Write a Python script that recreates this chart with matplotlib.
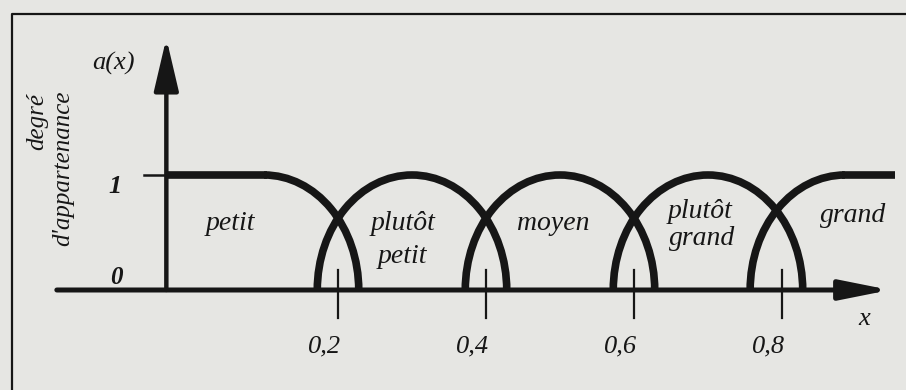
import matplotlib
matplotlib.use("Agg")
import matplotlib.pyplot as plt
from matplotlib.patches import Arc

# fuzzy sets: name, centre (peak), shape
set_names = ["petit", "plutôt petit", "moyen", "plutôt grand", "grand"]
set_centres = [0.1, 0.3, 0.5, 0.7, 0.885]
half_width = 0.128

tick_values = [0.2, 0.4, 0.6, 0.8]
tick_labels = ["0,2", "0,4", "0,6", "0,8"]

ink = "#161616"
paper = "#e6e6e3"

fig = plt.figure(figsize=(9.06, 3.90), dpi=100, facecolor=paper)
ax = fig.add_axes([0, 0, 1, 1])
ax.set_facecolor(paper)
ax.set_xlim(-0.2568, 0.9676)
ax.set_ylim(-0.8696, 2.5217)
ax.axis("off")

serif = dict(family="Liberation Serif", style="italic", color=ink)

# frame of the figure box
ax.plot([12 / 906, 12 / 906, 1], [0, 1 - 14 / 390, 1 - 14 / 390],
        transform=ax.transAxes, color=ink, lw=1.6, solid_capstyle="butt")

# axes with arrows
y_axis_x = -0.032
ax.annotate("", xy=(y_axis_x, 2.19), xytext=(y_axis_x, 0),
            arrowprops=dict(arrowstyle="-|>,head_length=3.2,head_width=0.75",
                            mutation_scale=10, lw=3.2, color=ink,
                            shrinkA=0, shrinkB=0))
ax.annotate("", xy=(0.946, 0), xytext=(-0.18, 0),
            arrowprops=dict(arrowstyle="-|>,head_length=3.0,head_width=0.6",
                            mutation_scale=10, lw=3.6, color=ink,
                            shrinkA=0, shrinkB=0))

# level 1 tick and x ticks
ax.plot([-0.0622, y_axis_x], [1, 1], color=ink, lw=1.8)
for t in tick_values:
    ax.plot([t, t], [0.174, -0.243], color=ink, lw=1.6)

# membership functions
curve = dict(color=ink, lw=5.5)
for i, c in enumerate(set_centres):
    if i == 0:
        ax.plot([y_axis_x, c + 0.004], [1, 1], solid_capstyle="butt", **curve)
        t1, t2 = 0, 90
    elif i == len(set_centres) - 1:
        ax.plot([c - 0.004, 0.953], [1, 1], solid_capstyle="butt", **curve)
        t1, t2 = 90, 180
    else:
        t1, t2 = 0, 180
    ax.add_patch(Arc((c, 0), 2 * half_width, 2, theta1=t1, theta2=t2, **curve))

# labels
fs = 20
ax.text(0.054, 0.522, "petit", ha="center", va="baseline", fontsize=fs, **serif)
ax.text(0.288, 0.522, "plutôt", ha="center", va="baseline", fontsize=fs, **serif)
ax.text(0.287, 0.235, "petit", ha="center", va="baseline", fontsize=fs, **serif)
ax.text(0.491, 0.522, "moyen", ha="center", va="baseline", fontsize=fs, **serif)
ax.text(0.689, 0.626, "plutôt", ha="center", va="baseline", fontsize=fs, **serif)
ax.text(0.692, 0.391, "grand", ha="center", va="baseline", fontsize=fs, **serif)
ax.text(0.896, 0.591, "grand", ha="center", va="baseline", fontsize=fs, **serif)

ax.text(-0.104, 1.974, "a(x)", ha="center", va="center", fontsize=19, **serif)
ax.text(-0.207, 1.713, "degré", ha="center", va="top", rotation=90, fontsize=18, **serif)
ax.text(-0.172, 1.739, "d'appartenance", ha="center", va="top", rotation=90,
        fontsize=18, **serif)
ax.text(-0.101, 0.90, "1", ha="center", va="center", fontsize=19, weight="bold", **serif)
ax.text(-0.099, 0.113, "0", ha="center", va="center", fontsize=18, weight="bold", **serif)
ax.text(0.911, -0.304, "x", ha="center", va="baseline", fontsize=19, **serif)

for t, lab in zip(tick_values, tick_labels):
    ax.text(t - 0.0176, -0.54, lab, ha="center", va="baseline", fontsize=19, **serif)

fig.savefig("out.png", dpi=100, facecolor=paper)
